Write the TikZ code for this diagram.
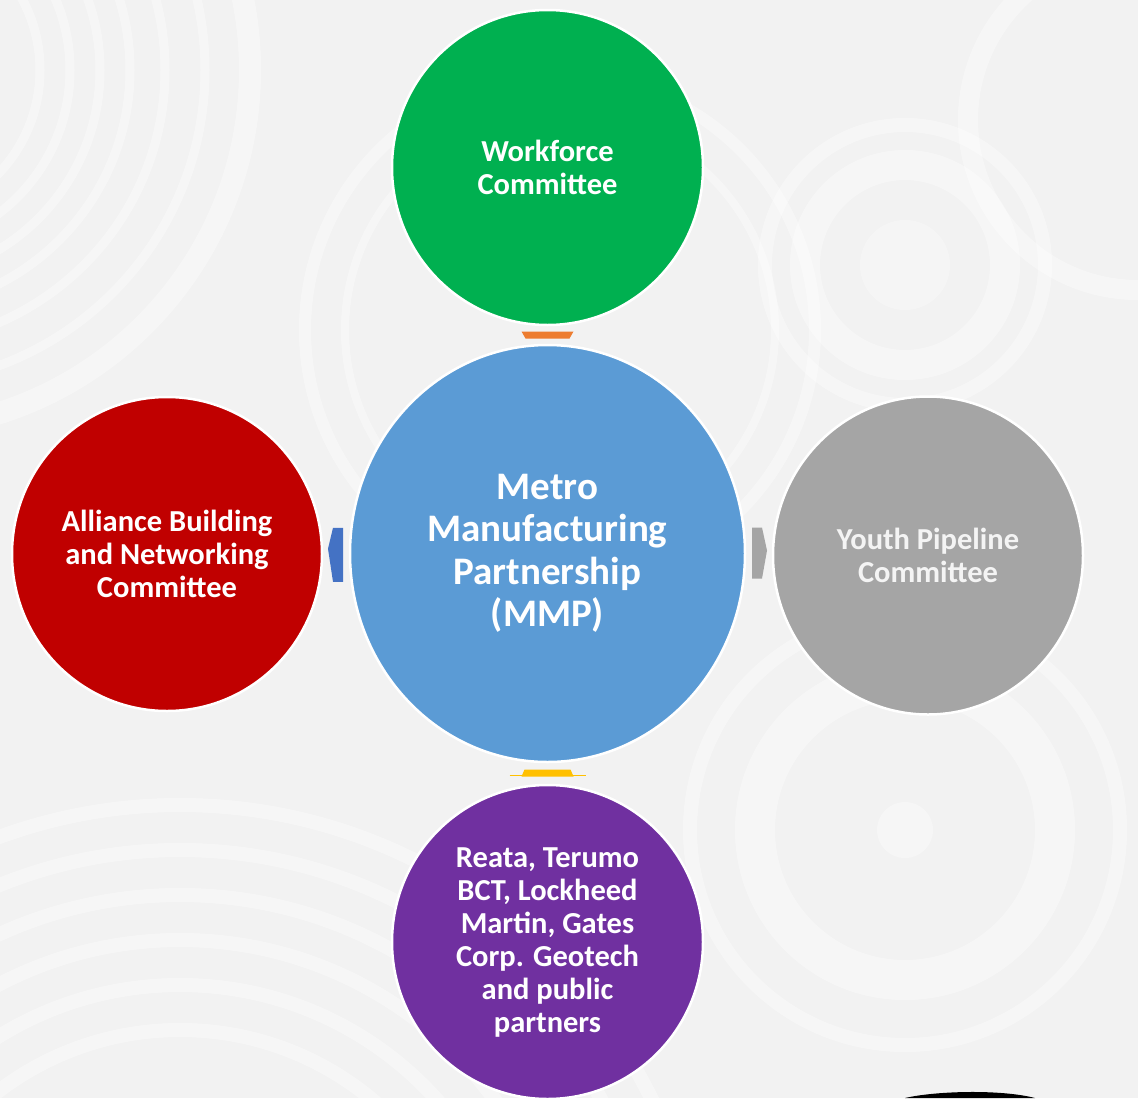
\documentclass[tikz,border=0pt]{standalone}
\usepackage{fontspec}
\setmainfont{Carlito}
\usetikzlibrary{shapes.geometric,calc}
\definecolor{bg}{HTML}{F2F2F2}
\definecolor{cgreen}{HTML}{00B050}
\definecolor{cblue}{HTML}{5B9BD5}
\definecolor{cred}{HTML}{C00000}
\definecolor{cgray}{HTML}{A5A5A5}
\definecolor{cpurple}{HTML}{7030A0}
\definecolor{corange}{HTML}{ED7D31}
\definecolor{cyellow}{HTML}{FFC000}
\definecolor{carrowblue}{HTML}{4472C4}
\definecolor{cgraytext}{HTML}{F4F4F4}
\tikzset{
  bubble/.style={ellipse, draw=white, line width=2.5pt, inner sep=0pt, text=white, align=center,
    font=\bfseries\fontsize{30.5}{33}\selectfont},
  bigbubble/.style={bubble, font=\bfseries\fontsize{39}{42.5}\selectfont},
  swirl/.style={draw=white, opacity=0.38}
}
\begin{document}
\begin{tikzpicture}[x=1pt,y=-1pt]
\useasboundingbox (0,0) rectangle (1138,1098);
\fill[bg] (0,0) rectangle (1138,1098);
% background swirls
\begin{scope}
\clip (0,0) rectangle (1138,1098);
\foreach \r in {150,180,210,240,275,315} \draw[swirl, line width=9pt] (-110,70) circle (\r);
\draw[swirl, line width=22pt] (-110,70) circle (360);
\foreach \r in {300,345,390,435,480,525} \draw[swirl, line width=14pt] (180,1330) circle (\r);
\draw[swirl, line width=30pt] (905,265) circle (100);
\draw[swirl, line width=14pt] (905,265) circle (140);
\fill[white, opacity=0.3] (905,265) circle (45);
\draw[swirl, line width=40pt] (905,830) circle (150);
\draw[swirl, line width=14pt] (905,830) circle (215);
\fill[white, opacity=0.35] (905,830) circle (28);
\draw[swirl, line width=12pt] (560,330) circle (255);
\draw[swirl, line width=8pt] (560,330) circle (215);
\draw[swirl, line width=20pt] (1138,120) circle (170);
\end{scope}
% nodes
\node[bigbubble, fill=cblue, minimum width=395pt, minimum height=417pt] (c) at (547.5,553.5)
  {Metro\\Manufacturing\\Partnership\\(MMP)};
\node[bubble, fill=cgreen, minimum width=311pt, minimum height=315pt] (g) at (547.5,167.5)
  {Workforce\\Committee};
\node[bubble, fill=cred, minimum width=310pt, minimum height=314pt] (r) at (167,554)
  {Alliance Building\\and Networking\\Committee};
\node[bubble, fill=cgray, text=cgraytext, minimum width=310pt, minimum height=318pt] (y) at (928,555.5)
  {Youth Pipeline\\Committee};
\node[bubble, fill=cpurple, minimum width=311pt, minimum height=314pt] (p) at (547.5,942)
  {Reata, Terumo\\BCT, Lockheed\\Martin, Gates\\Corp. Geotech\\and public\\partners};
% connectors
\coordinate (mt) at ($(c.north)!0.5!(g.south)$);
\coordinate (mb) at ($(c.south)!0.5!(p.north)$);
\coordinate (ml) at ($(c.west)!0.5!(r.east)$);
\coordinate (mr) at ($(c.east)!0.5!(y.west)$);
\fill[corange] ($(mt)+(-26,-3.5)$) -- ($(mt)+(26,-3.5)$) -- ($(mt)+(22,3.5)$) -- ($(mt)+(-22,3.5)$) -- cycle;
\draw[cyellow, line width=1.2pt] ($(mb)+(-38,2)$) -- ($(mb)+(38,2)$);
\fill[cyellow] ($(mb)+(-23,-4)$) -- ($(mb)+(23,-4)$) -- ($(mb)+(26,3)$) -- ($(mb)+(-26,3)$) -- cycle;
\fill[carrowblue] ($(ml)+(7,-26)$) -- ($(ml)+(-3,-26)$) -- ($(ml)+(-8,-5)$) -- ($(ml)+(-3,28)$) -- ($(ml)+(7,28)$) -- cycle;
\fill[cgray] ($(mr)+(-7,-27)$) -- ($(mr)+(3,-27)$) -- ($(mr)+(8,-4)$) -- ($(mr)+(3,24)$) -- ($(mr)+(-7,24)$) -- cycle;
% dark shape at bottom right
\fill[black] (905,1098) .. controls (935,1091) and (1000,1089) .. (1035,1098) -- cycle;
\end{tikzpicture}
\end{document}
